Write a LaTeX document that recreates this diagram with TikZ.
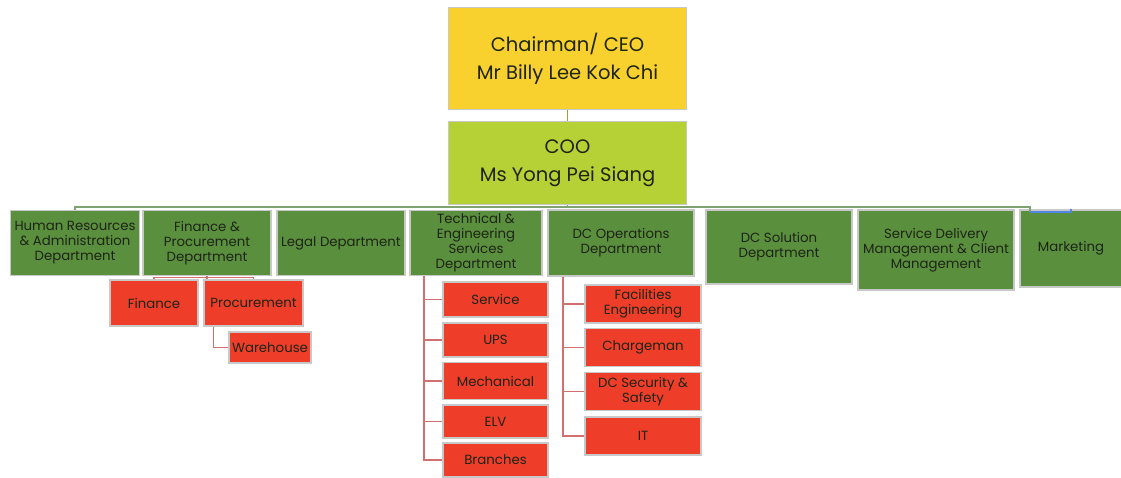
\documentclass[tikz,border=0pt]{standalone}
\usepackage{fontspec}
\setmainfont{Poppins}
\usepackage{xcolor}
\definecolor{ceoyellow}{HTML}{F8D12F}
\definecolor{cooline}{HTML}{B6D136}
\definecolor{deptgreen}{HTML}{5A8F3E}
\definecolor{unitred}{HTML}{EE3E2A}
\definecolor{redline}{HTML}{D27070}
\definecolor{busgreen}{HTML}{7FA36E}
\definecolor{busblue}{HTML}{4F86E8}
\definecolor{boxedge}{HTML}{C8C8C8}
\definecolor{ink}{HTML}{1E2416}

\tikzset{
  box/.style={draw=boxedge,line width=1.4pt,text=ink,align=center,inner sep=1pt},
  chief/.style={box,fill=ceoyellow,minimum width=238,minimum height=102,font=\fontsize{19.5}{28}\selectfont},
  deputy/.style={box,fill=cooline,minimum width=238,minimum height=83,font=\fontsize{19.5}{28}\selectfont},
  dept/.style={box,fill=deptgreen,font=\fontsize{13.3}{15}\selectfont},
  unit/.style={box,fill=unitred,font=\fontsize{13.3}{15}\selectfont},
  link/.style={line width=1.6pt,color=redline},
}

\begin{document}
\begin{tikzpicture}[x=1pt,y=-1pt]
\useasboundingbox (0,0) rectangle (1121,477);

\node[chief] (ceo) at (567.5,58.5) {Chairman/ CEO\\Mr Billy Lee Kok Chi};
\node[deputy] (coo) at (567.5,163) {COO\\Ms Yong Pei Siang};

\node[dept,minimum width=129,minimum height=65] (hr) at (75,243) {Human Resources\\\& Administration\\Department};
\node[dept,minimum width=128,minimum height=65] (fin) at (207,243) {Finance \&\\Procurement\\Department};
\node[dept,minimum width=128,minimum height=65] (legal) at (341,243) {Legal Department};
\node[dept,minimum width=132,minimum height=65] (tech) at (476,243) {Technical \&\\Engineering\\Services\\Department};
\node[dept,minimum width=146,minimum height=66] (ops) at (621,243) {DC Operations\\Department};
\node[dept,minimum width=146,minimum height=74] (sol) at (779,247) {DC Solution\\Department};
\node[dept,minimum width=156,minimum height=80] (sdm) at (936,250) {Service Delivery\\Management \& Client\\Management};
\node[dept,minimum width=102,minimum height=77] (mkt) at (1071,248.5) {Marketing};

\node[unit,minimum width=88,minimum height=46] (finance) at (154,303) {Finance};
\node[unit,minimum width=99,minimum height=46] (procure) at (253.5,303) {Procurement};
\node[unit,minimum width=82,minimum height=31] (ware) at (270,347.5) {Warehouse};

\node[unit,minimum width=105,minimum height=35] (service) at (495.5,299.5) {Service};
\node[unit,minimum width=105,minimum height=34] (ups) at (495.5,340) {UPS};
\node[unit,minimum width=105,minimum height=37] (mech) at (495.5,381) {Mechanical};
\node[unit,minimum width=105,minimum height=33] (elv) at (495.5,421.5) {ELV};
\node[unit,minimum width=105,minimum height=34] (branch) at (495.5,460) {Branches};

\node[unit,minimum width=116,minimum height=38] (facil) at (643,304) {Facilities\\Engineering};
\node[unit,minimum width=116,minimum height=38] (charge) at (643,347.5) {Chargeman};
\node[unit,minimum width=116,minimum height=38] (secur) at (643,391.5) {DC Security \&\\Safety};
\node[unit,minimum width=116,minimum height=38] (it) at (643,436) {IT};

% top of the chart
\draw[line width=1pt,color=cooline!80!black] (ceo.south) -- (coo.north);
\draw[line width=1.6pt,color=busgreen] (coo.south) -- ++(0,2);
\coordinate (busend) at ([xshift=-41,yshift=-2.5]mkt.north);
\draw[line width=1.6pt,color=busgreen] (hr.north) -- ++(0,-3) -| (busend);
\draw[line width=1.6pt,color=busblue] (busend) -| (mkt.north);

% finance and procurement
\draw[link] (fin.south) -- ++(0,3);
\draw[link] (finance.north) -- ++(0,-2) -| (procure.north);
\draw[link] ([xshift=-40]procure.south) |- (ware.west);

% technical branches
\foreach \u in {service,ups,mech,elv,branch}
  \draw[link] ([xshift=-52]tech.south) |- (\u.west);

% operations branches
\foreach \u in {facil,charge,secur,it}
  \draw[link] ([xshift=-58]ops.south) |- (\u.west);
\end{tikzpicture}
\end{document}
